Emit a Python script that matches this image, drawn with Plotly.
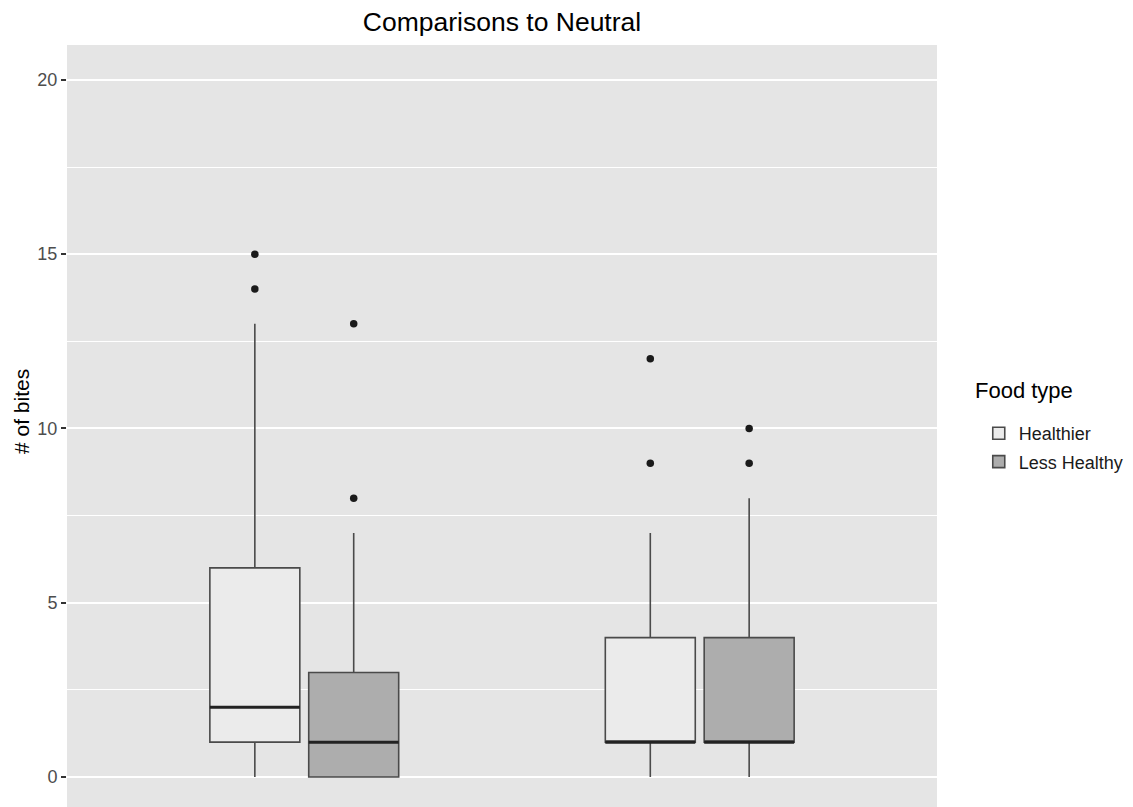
import plotly.graph_objects as go

# ---- data ----
groups = ["Group 1", "Group 2"]
food_types = ["Healthier", "Less Healthy"]

healthier_lower = [0, 0]
healthier_q1 = [1, 1]
healthier_median = [2, 1]
healthier_q3 = [6, 4]
healthier_upper = [13, 7]
healthier_outliers = [[14, 15], [9, 12]]

less_lower = [0, 0]
less_q1 = [0, 1]
less_median = [1, 1]
less_q3 = [3, 4]
less_upper = [7, 8]
less_outliers = [[8, 13], [9, 10]]

y_ticks = [0, 5, 10, 15, 20]

fills = {"Healthier": "#ebebeb", "Less Healthy": "#adadad"}

PLOT_TOP, PLOT_BOTTOM = 37, 799  # plot area in figure pixels
def paper_y(px):
    return 1 - (px - PLOT_TOP) / (PLOT_BOTTOM - PLOT_TOP)

fig = go.Figure()
series = [
    ("Healthier", healthier_lower, healthier_q1, healthier_median, healthier_q3, healthier_upper, healthier_outliers),
    ("Less Healthy", less_lower, less_q1, less_median, less_q3, less_upper, less_outliers),
]
for name, lo, q1, med, q3, up, outl in series:
    fig.add_trace(go.Box(
        name=name,
        legendgroup=name,
        offsetgroup=name,
        x=groups,
        y=outl,
        q1=q1, median=med, q3=q3, lowerfence=lo, upperfence=up,
        boxpoints="outliers",
        jitter=0, pointpos=0,
        fillcolor=fills[name],
        line=dict(color="#4a4a4a", width=1.6),
        marker=dict(color="#1a1a1a", size=7.5, line=dict(width=0)),
        whiskerwidth=0,
    ))
# thicker median bars (ggplot fattens the median line)
for name, lo, q1, med, q3, up, outl in series:
    fig.add_trace(go.Box(
        name=name,
        legendgroup=name,
        offsetgroup=name,
        showlegend=False,
        x=groups,
        q1=med, median=med, q3=med, lowerfence=med, upperfence=med,
        boxpoints=False,
        fillcolor="rgba(0,0,0,0)",
        line=dict(color="#222222", width=3),
        whiskerwidth=0,
        hoverinfo="skip",
    ))

fig.update_layout(
    width=1125, height=799,
    margin=dict(l=59, r=196, t=37, b=0),
    paper_bgcolor="white",
    plot_bgcolor="#e5e5e5",
    boxmode="group",
    boxgap=0.5,
    boxgroupgap=0.09,
    font=dict(family="Liberation Sans, Arial, sans-serif", color="#4d4d4d", size=18),
    title=dict(text="Comparisons to Neutral", x=0.5, xref="paper", xanchor="center",
               y=1 - 14 / 799, yanchor="middle",
               font=dict(size=26.5, color="#000000")),
    legend=dict(
        x=1.048, xanchor="left", y=paper_y(415 - 8), yanchor="top",
        font=dict(size=18, color="#1a1a1a"),
        bgcolor="rgba(0,0,0,0)",
        tracegroupgap=2,
    ),
    showlegend=True,
    annotations=[
        dict(text="Food type", xref="paper", yref="paper",
             x=(973 - 67) / 870, xanchor="left",
             y=paper_y(390 - 8), yanchor="middle",
             showarrow=False, font=dict(size=22, color="#000000")),
        dict(text="# of bites", xref="paper", yref="paper",
             x=(22 - 67) / 870, xanchor="center",
             y=paper_y(412 - 8), yanchor="middle", textangle=-90,
             showarrow=False, font=dict(size=21, color="#000000")),
    ],
)
fig.update_xaxes(
    type="category",
    range=[-0.6, 1.6],
    showgrid=False, zeroline=False, showticklabels=False, ticks="",
    showline=False,
)
fig.update_yaxes(
    range=[-0.86, 21.0],
    tickvals=y_ticks,
    ticks="outside", ticklen=5, tickcolor="#333333", tickwidth=1.5,
    ticklabelstandoff=0,
    tickfont=dict(size=18, color="#4d4d4d"),
    showgrid=True, gridcolor="#ffffff", gridwidth=2,
    minor=dict(dtick=2.5, tick0=0, showgrid=True, gridcolor="#ffffff", gridwidth=1, ticks=""),
    zeroline=False, showline=False,
)

fig.write_html("out.html")
